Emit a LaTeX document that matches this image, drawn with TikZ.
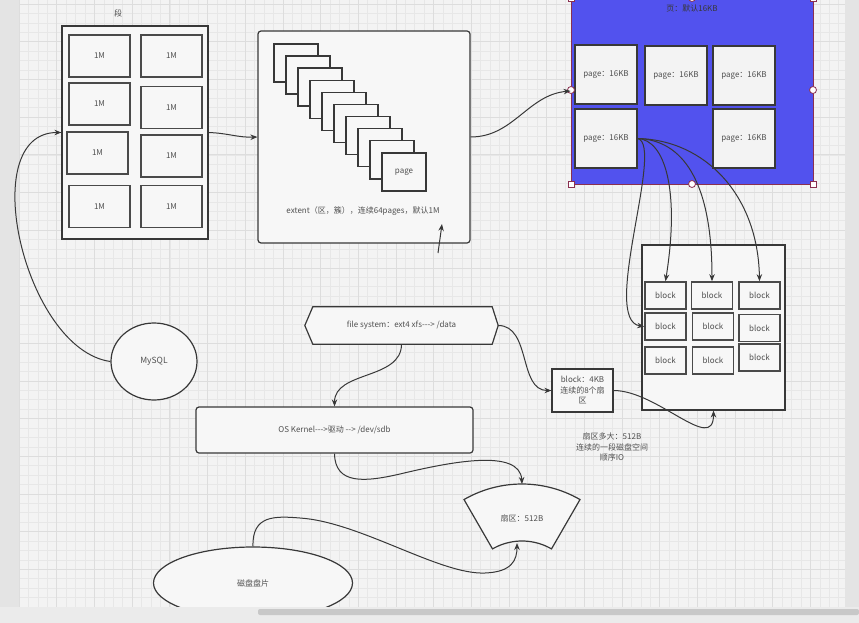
\documentclass[tikz,border=0pt]{standalone}
\usepackage{fontspec}
\setmainfont{Noto Sans CJK SC}
\usetikzlibrary{arrows.meta,backgrounds,calc,shapes.geometric,positioning}
\definecolor{canvas}{HTML}{F3F3F3}
\definecolor{gridgray}{HTML}{E7E7E7}
\definecolor{gridmajor}{HTML}{DDDDDD}
\definecolor{sidebar}{HTML}{E4E4E4}
\definecolor{ink}{HTML}{383838}
\definecolor{cellink}{HTML}{4A4A4A}
\definecolor{boxfill}{HTML}{F7F7F7}
\definecolor{pagefill}{HTML}{F3F3F3}
\definecolor{labelgray}{HTML}{505050}
\definecolor{panelblue}{HTML}{5252EE}
\definecolor{handlered}{HTML}{8A3050}
\definecolor{scrolltrack}{HTML}{EBEBEB}
\definecolor{scrollthumb}{HTML}{C8C8C8}
\tikzset{
  font=\fontsize{8}{10}\selectfont,
  >={Stealth[length=7pt,width=5.5pt]},
  flow/.style={draw=ink, line width=1pt, ->},
  frame/.style={draw=ink, fill=boxfill, line width=1.2pt, inner sep=1pt,
    text=labelgray},
  cellbox/.style={draw=cellink, fill=boxfill, line width=1.8pt,
    minimum width=61, minimum height=42, text=labelgray},
  stackpage/.style={draw=ink, fill=boxfill, line width=1.4pt,
    minimum width=44, minimum height=38, text=labelgray},
  pagebox/.style={draw=ink, fill=pagefill, line width=1.4pt,
    minimum width=62, minimum height=59, text=labelgray},
  blockbox/.style={draw=cellink, fill=boxfill, line width=1.6pt,
    minimum width=41, minimum height=27, text=labelgray},
  note/.style={text=labelgray, align=center, inner sep=1pt},
  sqhandle/.style={draw=handlered, fill=white, line width=.8pt,
    minimum size=6, inner sep=0pt},
  dothandle/.style={sqhandle, circle, minimum size=7},
  gridline/.style={draw=gridgray, line width=.4pt},
  gridbold/.style={draw=gridmajor, line width=.5pt}
}

\begin{document}
\begin{tikzpicture}[x=1pt,y=-1pt]
  \useasboundingbox (0,0) rectangle (859,623);
  \begin{scope}[on background layer]
    \fill[canvas] (0,0) rectangle (859,623);
    \foreach \i in {0,...,88} {
      \pgfmathsetmacro\gx{19+9.42*\i}
      \draw[gridline] (\gx,0) -- (\gx,607);
    }
    \foreach \i in {0,...,64} {
      \pgfmathsetmacro\gy{4+9.42*\i}
      \draw[gridline] (19,\gy) -- (845,\gy);
    }
    \foreach \i in {0,...,21} {
      \pgfmathsetmacro\gx{19+37.68*\i}
      \draw[gridbold] (\gx,0) -- (\gx,607);
    }
    \foreach \i in {0,...,16} {
      \pgfmathsetmacro\gy{4+37.68*\i}
      \draw[gridbold] (19,\gy) -- (845,\gy);
    }
    \fill[sidebar] (0,0) rectangle (19,607);
    \fill[sidebar] (845,0) rectangle (859,607);
  \end{scope}

  % -------------------------------------------------------------------
  % segment with its 1M extents
  \node[text=labelgray] (segLabel) at (118,13) {段};
  \node[frame, minimum width=146, minimum height=213] (seg) at (135,132.5) {};
  \node[cellbox] (segA) at (99.5,56) {1M};
  \node[cellbox] (segB) at (171.5,56) {1M};
  \node[cellbox] (segC) at (99.5,104) {1M};
  \node[cellbox] (segD) at (171.5,107.5) {1M};
  \node[cellbox] (segE) at (97.5,153) {1M};
  \node[cellbox] (segF) at (171.5,156) {1M};
  \node[cellbox] (segG) at (99.5,206.5) {1M};
  \node[cellbox] (segH) at (171.5,206.5) {1M};

  % -------------------------------------------------------------------
  % extent made of stacked pages
  \node[frame, rounded corners=3pt, minimum width=212, minimum height=212]
    (extent) at (364,137) {};
  \foreach \k in {0,...,8}
    \node[stackpage] (stack\k) at (296+12*\k,63+12.1*\k) {};
  \node[stackpage] (stack9) at (404,172) {page};
  \node[note] (extentText) at (363,211)
    {extent（区，簇），连续64pages，默认1M};
  \coordinate (extTail) at (438,253);
  \coordinate (extTip) at (442,224);
  \draw[flow] (extTail) -- (extTip);

  % -------------------------------------------------------------------
  % page panel (selected)
  \node[draw=handlered, fill=panelblue, line width=.8pt,
    minimum width=242, minimum height=186] (pagePanel) at (692,91) {};
  \node[text=ink] (pageTitle) at (692,8) {页：默认16KB};
  \node[pagebox] (pageA) at (606,74.5) {page：16KB};
  \node[pagebox] (pageB) at (676,75.5) {page：16KB};
  \node[pagebox] (pageC) at (744,75.5) {page：16KB};
  \node[pagebox] (pageD) at (606,138.5) {page：16KB};
  \node[pagebox] (pageE) at (744,138.5) {page：16KB};
  \foreach \hx/\hy [count=\h] in {571/-2, 813/-2, 571/184, 813/184}
    \node[sqhandle] (hdlSq\h) at (\hx,\hy) {};
  \foreach \hx/\hy [count=\h] in {692/-2, 571/90, 813/90, 692/184}
    \node[dothandle] (hdlDot\h) at (\hx,\hy) {};

  % -------------------------------------------------------------------
  % blocks
  \node[frame, minimum width=143, minimum height=165] (blockArea) at (713.5,327.5) {};
  \node[blockbox] (blkA) at (665.5,295.5) {block};
  \node[blockbox] (blkB) at (712,295.5) {block};
  \node[blockbox] (blkC) at (759.5,295.5) {block};
  \node[blockbox] (blkD) at (665.5,326.5) {block};
  \node[blockbox] (blkE) at (713,326.5) {block};
  \node[blockbox] (blkF) at (759.5,328) {block};
  \node[blockbox] (blkG) at (665.5,360.5) {block};
  \node[blockbox] (blkH) at (713,360.5) {block};
  \node[blockbox] (blkI) at (759.5,357.5) {block};

  % -------------------------------------------------------------------
  % file system, kernel, disk
  \node[ellipse, frame, minimum width=86, minimum height=77,
    font=\fontsize{8.5}{10}\selectfont] (mysql) at (154,361.5) {MySQL};
  \node[inner sep=0pt, minimum width=193, minimum height=37, text=labelgray]
    (fsys) at (401.5,325.5) {file system：ext4 xfs-{}-{}-> /data};
  \begin{scope}[on background layer]
    \draw[frame] (fsys.west) -- ($(fsys.north west)+(8,0)$)
      -- ($(fsys.north east)+(-6,0)$) -- (fsys.east)
      -- ($(fsys.south east)+(-6,0)$) -- ($(fsys.south west)+(8,0)$) -- cycle;
  \end{scope}
  \node[frame, align=center, minimum width=61, minimum height=43,
    font=\fontsize{8}{10.5}\selectfont] (blk4k) at (582.5,390.5)
    {block：4KB\\连续的8个扇\\区};
  \node[note, font=\fontsize{8}{10.5}\selectfont] (sectorNote) at (612,447)
    {扇区多大：512B\\连续的一段磁盘空间\\顺序IO};
  \node[frame, rounded corners=3pt, minimum width=277, minimum height=46]
    (kernel) at (334.5,430) {OS Kernel-{}-{}->驱动 -{}-> /dev/sdb};

  \draw[frame] plot[domain=240:300, samples=30] ({522+116*cos(\x)},{600+116*sin(\x)})
    -- plot[domain=300:240, samples=30] ({522+59*cos(\x)},{600+59*sin(\x)}) -- cycle;
  \node[text=labelgray] (sector) at (522,518) {扇区：512B};
  \coordinate (secTop) at (522,484);
  \coordinate (secBot) at (517,543);
  \node[ellipse, frame, minimum width=199, minimum height=72] (disk) at (253,583) {磁盘盘片};

  % -------------------------------------------------------------------
  % connectors
  \draw[flow] (mysql.west) to[out=172, in=180, looseness=0.95] (seg.west);
  \draw[flow] (seg.east) to[out=-2, in=182] (extent.west);
  \draw[flow] (extent.east) to[out=0, in=185] (pagePanel.west);
  \draw[flow] (pageD.east) .. controls (665,145) and (600,320) .. (blkD.west);
  \draw[flow] (pageD.east) .. controls (665,140) and (680,190) .. (blkA.north);
  \draw[flow] (pageD.east) .. controls (682,140) and (712,180) .. (blkB.north);
  \draw[flow] (pageD.east) .. controls (705,140) and (758,195) .. (blkC.north);
  \draw[flow] (fsys.south) to[out=-90, in=90] (kernel.north);
  \draw[flow] (fsys.east) to[out=0, in=180] (blk4k.west);
  \draw[flow] (blk4k.east) to[out=0, in=-90, looseness=1.1] (blockArea.south);
  \draw[flow] (kernel.south) .. controls (335,485) and (365,482) .. (400,474)
    .. controls (450,462) and (520,448) .. (secTop);
  \draw[flow] (disk.north) .. controls (252,515) and (275,516) .. (300,518)
    .. controls (360,522) and (440,575) .. (485,573)
    .. controls (512,572) and (517,560) .. (secBot);

  % scroll bar
  \fill[scrolltrack] (0,607) rectangle (859,623);
  \fill[scrollthumb, rounded corners=2pt] (258,609) rectangle (859,615);
\end{tikzpicture}
\end{document}
